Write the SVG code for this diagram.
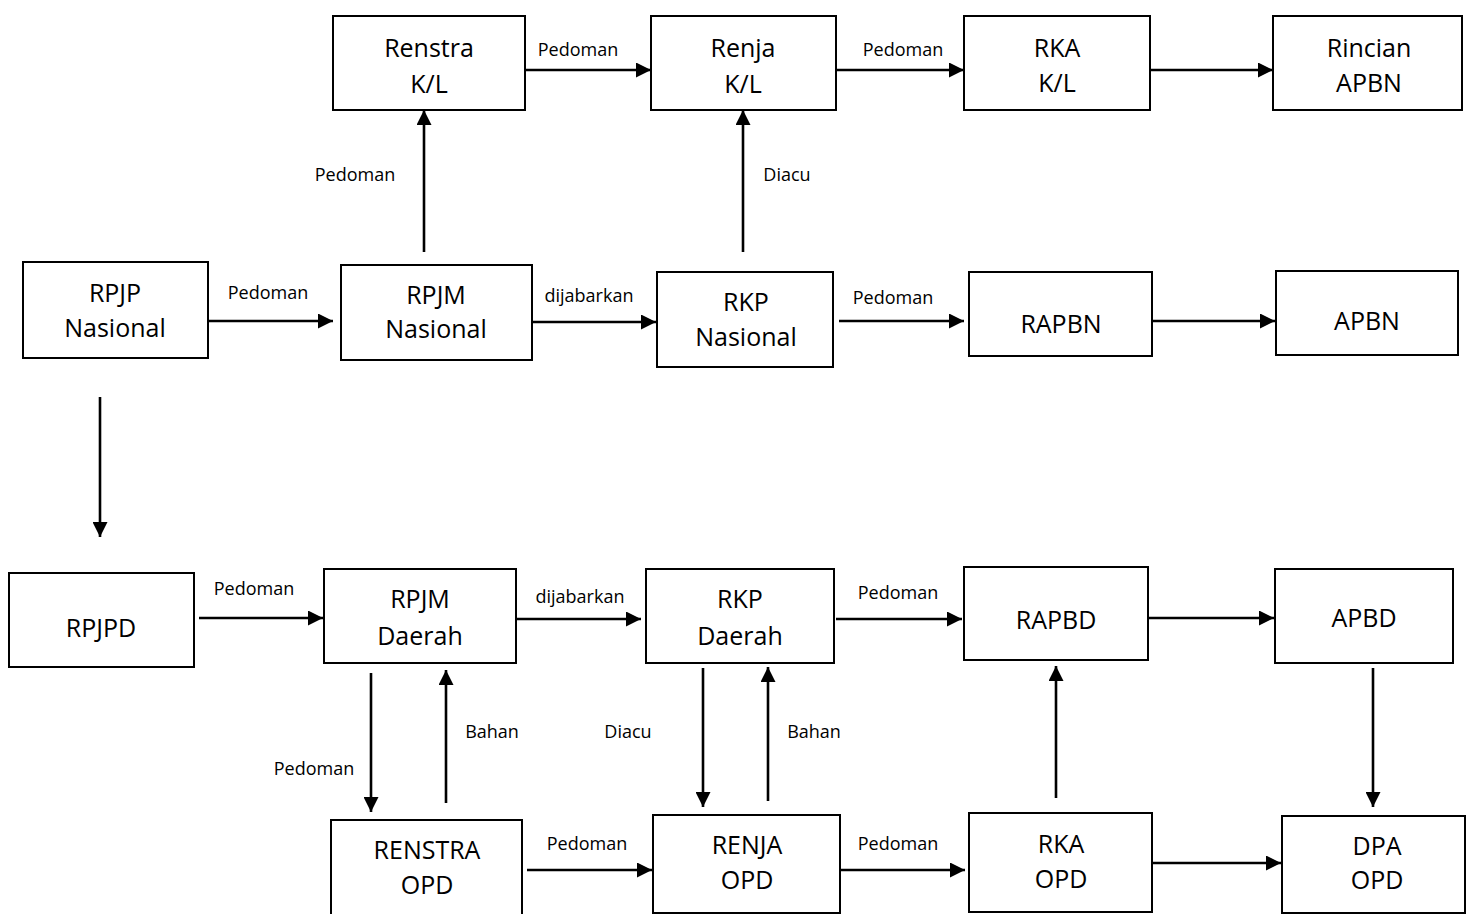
<svg xmlns="http://www.w3.org/2000/svg" width="1468" height="914" viewBox="0 0 1468 914">
<style>
.box{fill:#fff;stroke:#000;stroke-width:2}
.nt{font-family:"Open Sans","Liberation Sans",sans-serif;font-size:25px;fill:#000;text-anchor:middle}
.lb{font-family:"Open Sans","Liberation Sans",sans-serif;font-size:18px;fill:#000;text-anchor:middle}
.cn line{stroke:#000;stroke-width:2.6;marker-end:url(#ah)}
</style>
<defs>
<marker id="ah" markerUnits="userSpaceOnUse" markerWidth="16" markerHeight="15" refX="15" refY="7.5" orient="auto">
<path d="M0,0 L15,7.5 L0,15 Z" fill="#000"/>
</marker>
</defs>
<rect width="1468" height="914" fill="#fff"/>

<g id="renstra-kl"><rect class="box" x="333" y="16" width="192" height="94"/><text class="nt" x="429" y="57">Renstra</text><text class="nt" x="429" y="93">K/L</text></g>
<g id="renja-kl"><rect class="box" x="651" y="16" width="185" height="94"/><text class="nt" x="743" y="57">Renja</text><text class="nt" x="743" y="93">K/L</text></g>
<g id="rka-kl"><rect class="box" x="964" y="16" width="186" height="94"/><text class="nt" x="1057" y="57">RKA</text><text class="nt" x="1057" y="92">K/L</text></g>
<g id="rincian-apbn"><rect class="box" x="1273" y="16" width="189" height="94"/><text class="nt" x="1369" y="57">Rincian</text><text class="nt" x="1369" y="92">APBN</text></g>

<g id="rpjp-nasional"><rect class="box" x="23" y="262" width="185" height="96"/><text class="nt" x="115" y="302">RPJP</text><text class="nt" x="115" y="337">Nasional</text></g>
<g id="rpjm-nasional"><rect class="box" x="341" y="265" width="191" height="95"/><text class="nt" x="436" y="304">RPJM</text><text class="nt" x="436" y="338">Nasional</text></g>
<g id="rkp-nasional"><rect class="box" x="657" y="272" width="176" height="95"/><text class="nt" x="746" y="311">RKP</text><text class="nt" x="746" y="346">Nasional</text></g>
<g id="rapbn"><rect class="box" x="969" y="272" width="183" height="84"/><text class="nt" x="1061" y="333">RAPBN</text></g>
<g id="apbn"><rect class="box" x="1276" y="271" width="182" height="84"/><text class="nt" x="1367" y="330">APBN</text></g>

<g id="rpjpd"><rect class="box" x="9" y="573" width="185" height="94"/><text class="nt" x="101" y="637">RPJPD</text></g>
<g id="rpjm-daerah"><rect class="box" x="324" y="569" width="192" height="94"/><text class="nt" x="420" y="608">RPJM</text><text class="nt" x="420" y="645">Daerah</text></g>
<g id="rkp-daerah"><rect class="box" x="646" y="569" width="188" height="94"/><text class="nt" x="740" y="608">RKP</text><text class="nt" x="740" y="645">Daerah</text></g>
<g id="rapbd"><rect class="box" x="964" y="567" width="184" height="93"/><text class="nt" x="1056" y="629">RAPBD</text></g>
<g id="apbd"><rect class="box" x="1275" y="569" width="178" height="94"/><text class="nt" x="1364" y="627">APBD</text></g>

<g id="renstra-opd"><rect class="box" x="331" y="820" width="191" height="100"/><text class="nt" x="427" y="859">RENSTRA</text><text class="nt" x="427" y="894">OPD</text></g>
<g id="renja-opd"><rect class="box" x="653" y="815" width="187" height="98"/><text class="nt" x="747" y="854">RENJA</text><text class="nt" x="747" y="889">OPD</text></g>
<g id="rka-opd"><rect class="box" x="969" y="813" width="183" height="99"/><text class="nt" x="1061" y="853">RKA</text><text class="nt" x="1061" y="888">OPD</text></g>
<g id="dpa-opd"><rect class="box" x="1282" y="816" width="183" height="97"/><text class="nt" x="1377" y="855">DPA</text><text class="nt" x="1377" y="889">OPD</text></g>

<g id="connectors" class="cn">
<line x1="525" y1="70" x2="651" y2="70"/>
<line x1="836" y1="70" x2="964" y2="70"/>
<line x1="1150" y1="70" x2="1273" y2="70"/>
<line x1="424" y1="252" x2="424" y2="110"/>
<line x1="743" y1="252" x2="743" y2="110"/>
<line x1="208" y1="321" x2="333" y2="321"/>
<line x1="532" y1="322" x2="656" y2="322"/>
<line x1="839" y1="321" x2="964" y2="321"/>
<line x1="1152" y1="321" x2="1275" y2="321"/>
<line x1="100" y1="397" x2="100" y2="537"/>
<line x1="199" y1="618" x2="323" y2="618"/>
<line x1="516" y1="619" x2="641" y2="619"/>
<line x1="836" y1="619" x2="962" y2="619"/>
<line x1="1148" y1="618" x2="1274" y2="618"/>
<line x1="371" y1="673" x2="371" y2="812"/>
<line x1="446" y1="803" x2="446" y2="670"/>
<line x1="703" y1="668" x2="703" y2="807"/>
<line x1="768" y1="801" x2="768" y2="667"/>
<line x1="1056" y1="798" x2="1056" y2="666"/>
<line x1="1373" y1="668" x2="1373" y2="807"/>
<line x1="527" y1="870" x2="652" y2="870"/>
<line x1="840" y1="870" x2="965" y2="870"/>
<line x1="1152" y1="863" x2="1281" y2="863"/>
</g>

<g id="labels">
<text class="lb" x="578" y="56">Pedoman</text>
<text class="lb" x="903" y="56">Pedoman</text>
<text class="lb" x="355" y="181">Pedoman</text>
<text class="lb" x="787" y="181">Diacu</text>
<text class="lb" x="268" y="299">Pedoman</text>
<text class="lb" x="589" y="302">dijabarkan</text>
<text class="lb" x="893" y="304">Pedoman</text>
<text class="lb" x="254" y="595">Pedoman</text>
<text class="lb" x="580" y="603">dijabarkan</text>
<text class="lb" x="898" y="599">Pedoman</text>
<text class="lb" x="314" y="775">Pedoman</text>
<text class="lb" x="492" y="738">Bahan</text>
<text class="lb" x="628" y="738">Diacu</text>
<text class="lb" x="814" y="738">Bahan</text>
<text class="lb" x="587" y="850">Pedoman</text>
<text class="lb" x="898" y="850">Pedoman</text>
</g>
</svg>
